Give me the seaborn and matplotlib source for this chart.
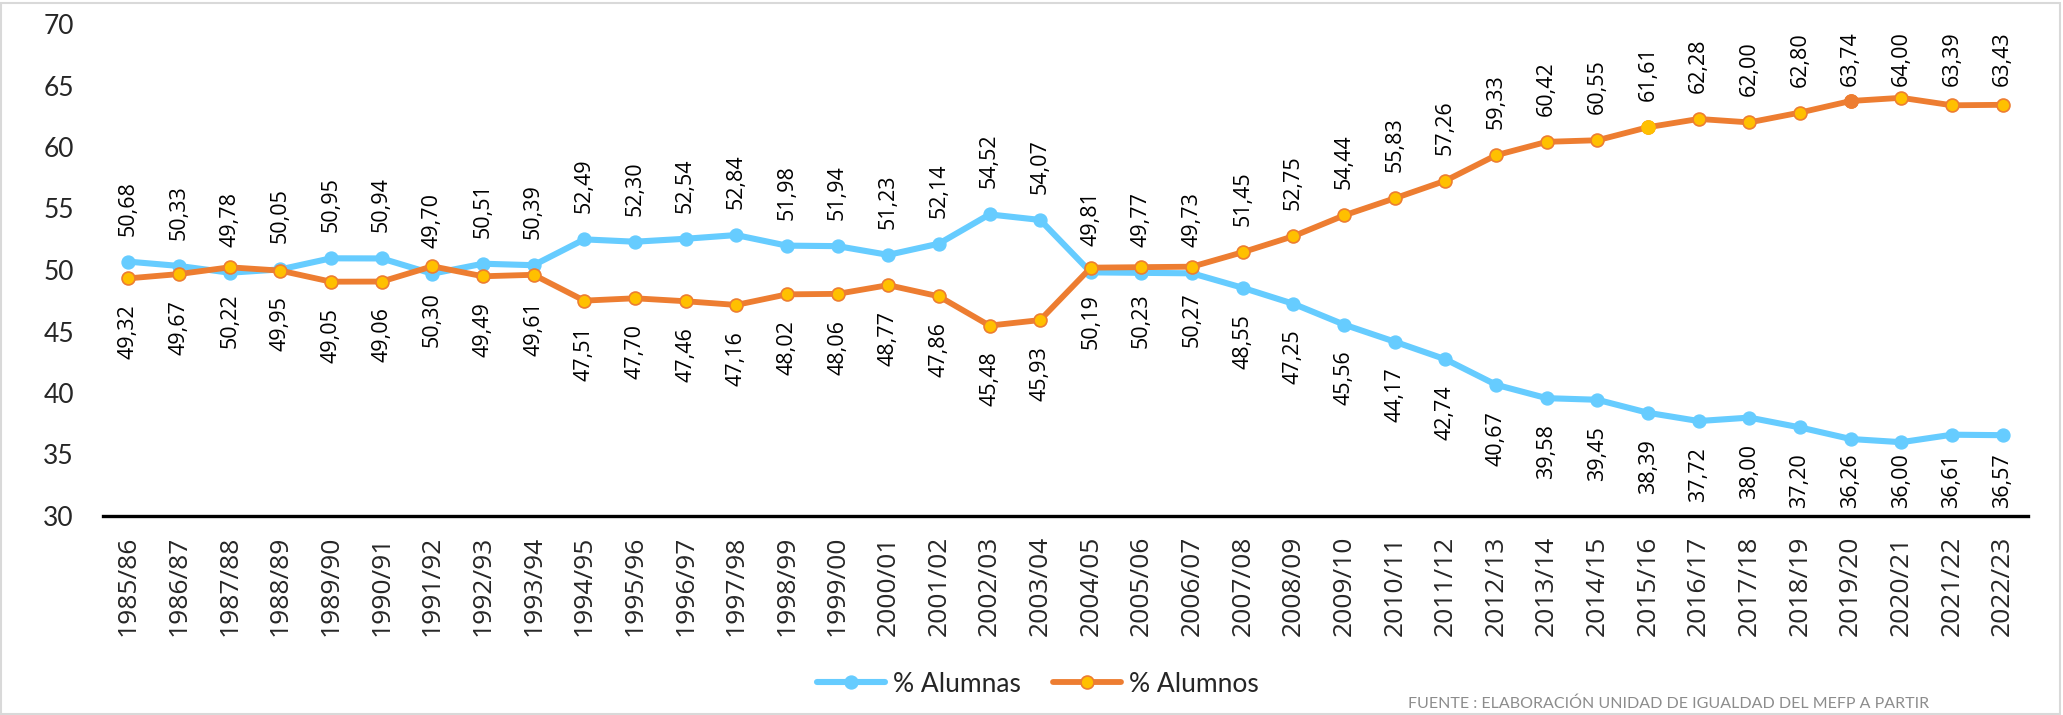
import numpy as np
import pandas as pd
import matplotlib
matplotlib.use("Agg")
import matplotlib.pyplot as plt
import seaborn as sns
from matplotlib import font_manager as fm
from matplotlib.patches import Rectangle

categories = ["1985/86", "1986/87", "1987/88", "1988/89", "1989/90", "1990/91", "1991/92",
              "1992/93", "1993/94", "1994/95", "1995/96", "1996/97", "1997/98", "1998/99",
              "1999/00", "2000/01", "2001/02", "2002/03", "2003/04", "2004/05", "2005/06",
              "2006/07", "2007/08", "2008/09", "2009/10", "2010/11", "2011/12", "2012/13",
              "2013/14", "2014/15", "2015/16", "2016/17", "2017/18", "2018/19", "2019/20",
              "2020/21", "2021/22", "2022/23"]
alumnas = [50.68, 50.33, 49.78, 50.05, 50.95, 50.94, 49.70, 50.51, 50.39, 52.49, 52.30, 52.54,
           52.84, 51.98, 51.94, 51.23, 52.14, 54.52, 54.07, 49.81, 49.77, 49.73, 48.55, 47.25,
           45.56, 44.17, 42.74, 40.67, 39.58, 39.45, 38.39, 37.72, 38.00, 37.20, 36.26, 36.00,
           36.61, 36.57]
alumnos = [49.32, 49.67, 50.22, 49.95, 49.05, 49.06, 50.30, 49.49, 49.61, 47.51, 47.70, 47.46,
           47.16, 48.02, 48.06, 48.77, 47.86, 45.48, 45.93, 50.19, 50.23, 50.27, 51.45, 52.75,
           54.44, 55.83, 57.26, 59.33, 60.42, 60.55, 61.61, 62.28, 62.00, 62.80, 63.74, 64.00,
           63.39, 63.43]
series_names = ["% Alumnas", "% Alumnos"]
yticks = [30, 35, 40, 45, 50, 55, 60, 65, 70]
footer = "FUENTE : ELABORACIÓN UNIDAD DE IGUALDAD DEL MEFP A PARTIR"

sns.set_theme(style="white")
names = {f.name for f in fm.fontManager.ttflist}
LBL = "Open Sans" if "Open Sans" in names else "DejaVu Sans"
CAL = "Lato" if "Lato" in names else "DejaVu Sans"
plt.rcParams["font.family"] = [CAL, "DejaVu Sans"]

BLUE = "#66CCFF"
ORANGE = "#ED7D31"
GOLD = "#FFC000"

W, H = 2063, 715
fig = plt.figure(figsize=(W / 100, H / 100), dpi=100)
ax = fig.add_axes([103 / W, 1 - 516 / H, (2028 - 103) / W, (516 - 24) / H])

df = pd.DataFrame({"curso": categories, "x": np.arange(len(categories)),
                   "Alumnas": alumnas, "Alumnos": alumnos})

sns.lineplot(data=df, x="x", y="Alumnas", ax=ax, color=BLUE, linewidth=4.4,
             marker="o", markersize=9.3, markerfacecolor=BLUE, markeredgecolor=BLUE,
             markeredgewidth=1, label=series_names[0], zorder=3)
sns.lineplot(data=df, x="x", y="Alumnos", ax=ax, color=ORANGE, linewidth=4.2,
             marker="o", markersize=9.3, markerfacecolor=GOLD, markeredgecolor=ORANGE,
             markeredgewidth=1.2, label=series_names[1], zorder=4)

# individual marker styling seen in the reference
i1 = categories.index("2015/16")
ax.plot([i1], [alumnos[i1]], "o", ms=9.3, mfc=GOLD, mec=GOLD, mew=1.2, zorder=5)
i2 = categories.index("2019/20")
ax.plot([i2], [alumnos[i2]], "o", ms=9.3, mfc=ORANGE, mec=ORANGE, mew=1.2, zorder=5)

ax.set_xlim(-0.5, len(categories) - 0.5)
ax.set_ylim(yticks[0], yticks[-1])
ax.set_xticks(np.arange(len(categories)))
ax.set_xticklabels(categories, rotation=90, fontsize=19, family=LBL)
ax.set_yticks(yticks)
ax.set_yticklabels([str(v) for v in yticks], fontsize=19)
ax.tick_params(axis="x", length=0, pad=14)
ax.tick_params(axis="y", length=0, pad=21)
ax.set_xlabel("")
ax.set_ylabel("")
for s in ["top", "right", "left"]:
    ax.spines[s].set_visible(False)
ax.spines["bottom"].set_color("black")
ax.spines["bottom"].set_linewidth(2.4)
ax.grid(False)

def fmt(v):
    return f"{v:.2f}".replace(".", ",")

switch = categories.index("2007/08")
OFF = 26          # pixels between point and label
TOP_LIM = H - 31  # label must not rise above this (display px)
BOT_LIM = H - 508 # label must not fall below this (display px)
LFS = 15.5
anns = []
for i, (a, b) in enumerate(zip(alumnas, alumnos)):
    a_up = i < switch
    for v, up in ((a, a_up), (b, not a_up)):
        t = ax.annotate(fmt(v), (i, v), xytext=(0, OFF if up else -OFF),
                        textcoords="offset pixels", rotation=90, ha="center",
                        va="bottom" if up else "top", fontsize=LFS, family=LBL,
                        color="black", zorder=6)
        anns.append((t, up))

fig.canvas.draw()
renderer = fig.canvas.get_renderer()
for t, up in anns:
    bb = t.get_window_extent(renderer)
    dx, dy = t.xyann
    if up and bb.y1 > TOP_LIM:
        t.xyann = (dx, dy - (bb.y1 - TOP_LIM))
    elif (not up) and bb.y0 < BOT_LIM:
        t.xyann = (dx, dy + (BOT_LIM - bb.y0))

handles, labels = ax.get_legend_handles_labels()
if ax.get_legend() is not None:
    ax.get_legend().remove()
fig.legend(handles[:2], labels[:2], loc="center", bbox_to_anchor=(0.503, 1 - 684 / H),
           ncol=2, frameon=False, fontsize=19, handlelength=2.6, columnspacing=1.2,
           handletextpad=0.3)

fig.text(1408 / W, 1 - 711 / H, footer, ha="left", va="bottom", color="#8C8C8C", fontsize=11.5)

fig.add_artist(Rectangle((1 / W, 1 / H), 1 - 4 / W, 1 - 4 / H, transform=fig.transFigure,
                         fill=False, edgecolor="#D9D9D9", linewidth=1.5))

fig.savefig("out.png", dpi=100)
